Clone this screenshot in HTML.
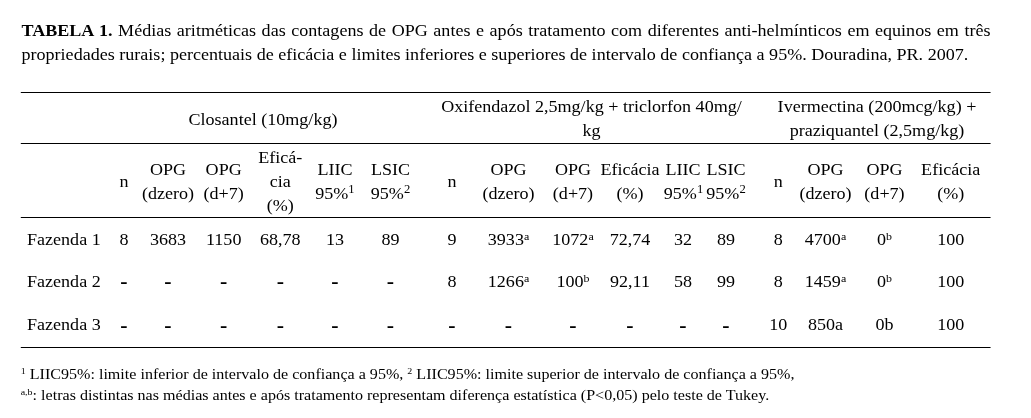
<!DOCTYPE html>
<html lang="pt"><head><meta charset="utf-8"><title>Tabela 1</title>
<style>
html,body{margin:0;padding:0;background:#fff}
body{width:1031px;height:418px;position:relative;overflow:hidden;font-family:"Liberation Serif","Times New Roman",serif;color:#000}
#w{position:absolute;left:0;top:0;width:941.94px;height:418px;transform:scaleX(1.0945454545454545);transform-origin:0 0}
.t{position:absolute;white-space:nowrap;line-height:20px;height:20px}
.c{width:400px;text-align:center}
.j{white-space:normal;text-align:justify;text-align-last:justify;width:885.30px}
sup{font-size:70%;line-height:0;vertical-align:baseline;position:relative;top:-0.54em}
sup.s{font-size:66%;top:-0.5em}
sup.f{font-size:62%;top:-0.6em}
.d{font-size:20px;font-weight:bold}
.r{position:absolute;height:1.5px;background:#000}
</style></head><body><div id="w">
<div class="t j" style="left:19.64px;top:21.00px;font-size:16.5px"><b>TABELA 1.</b> Médias aritméticas das contagens de OPG antes e após tratamento com diferentes anti-helmínticos em equinos em três</div>
<div class="t" style="left:19.64px;top:45.00px;font-size:16.5px">propriedades rurais; percentuais de eficácia e limites inferiores e superiores de intervalo de confiança a 95%. Douradina, PR. 2007.</div>
<div class="t c" style="left:40.28px;top:110.00px;font-size:16.5px">Closantel (10mg/kg)</div>
<div class="t c" style="left:340.41px;top:97.00px;font-size:16.5px">Oxifendazol 2,5mg/kg + triclorfon 40mg/</div>
<div class="t c" style="left:340.41px;top:121.00px;font-size:16.5px">kg</div>
<div class="t c" style="left:601.25px;top:97.00px;font-size:16.5px">Ivermectina (200mcg/kg) +</div>
<div class="t c" style="left:601.25px;top:121.00px;font-size:16.5px">praziquantel (2,5mg/kg)</div>
<div class="t c" style="left:-86.71px;top:172.00px;font-size:16.5px">n</div>
<div class="t c" style="left:-46.51px;top:160.00px;font-size:16.5px">OPG</div>
<div class="t c" style="left:-46.51px;top:184.00px;font-size:16.5px">(dzero)</div>
<div class="t c" style="left:4.38px;top:160.00px;font-size:16.5px">OPG</div>
<div class="t c" style="left:4.38px;top:184.00px;font-size:16.5px">(d+7)</div>
<div class="t c" style="left:56.09px;top:148.00px;font-size:16.5px">Eficá-</div>
<div class="t c" style="left:56.09px;top:172.00px;font-size:16.5px">cia</div>
<div class="t c" style="left:56.09px;top:196.00px;font-size:16.5px">(%)</div>
<div class="t c" style="left:106.06px;top:160.00px;font-size:16.5px">LIIC</div>
<div class="t c" style="left:106.06px;top:184.00px;font-size:16.5px">95%<sup>1</sup></div>
<div class="t c" style="left:156.77px;top:160.00px;font-size:16.5px">LSIC</div>
<div class="t c" style="left:156.77px;top:184.00px;font-size:16.5px">95%<sup>2</sup></div>
<div class="t c" style="left:212.96px;top:172.00px;font-size:16.5px">n</div>
<div class="t c" style="left:264.58px;top:160.00px;font-size:16.5px">OPG</div>
<div class="t c" style="left:264.58px;top:184.00px;font-size:16.5px">(dzero)</div>
<div class="t c" style="left:323.50px;top:160.00px;font-size:16.5px">OPG</div>
<div class="t c" style="left:323.50px;top:184.00px;font-size:16.5px">(d+7)</div>
<div class="t c" style="left:375.58px;top:160.00px;font-size:16.5px">Eficácia</div>
<div class="t c" style="left:375.58px;top:184.00px;font-size:16.5px">(%)</div>
<div class="t c" style="left:424.00px;top:160.00px;font-size:16.5px">LIIC</div>
<div class="t c" style="left:424.46px;top:184.00px;font-size:16.5px">95%<sup>1</sup></div>
<div class="t c" style="left:463.29px;top:160.00px;font-size:16.5px">LSIC</div>
<div class="t c" style="left:463.29px;top:184.00px;font-size:16.5px">95%<sup>2</sup></div>
<div class="t c" style="left:510.98px;top:172.00px;font-size:16.5px">n</div>
<div class="t c" style="left:554.19px;top:160.00px;font-size:16.5px">OPG</div>
<div class="t c" style="left:554.19px;top:184.00px;font-size:16.5px">(dzero)</div>
<div class="t c" style="left:608.10px;top:160.00px;font-size:16.5px">OPG</div>
<div class="t c" style="left:608.10px;top:184.00px;font-size:16.5px">(d+7)</div>
<div class="t c" style="left:668.58px;top:160.00px;font-size:16.5px">Eficácia</div>
<div class="t c" style="left:668.58px;top:184.00px;font-size:16.5px">(%)</div>
<div class="t" style="left:24.67px;top:230.00px;font-size:16.5px">Fazenda 1</div>
<div class="t c" style="left:-86.71px;top:230.00px;font-size:16.5px">8</div>
<div class="t c" style="left:-46.51px;top:230.00px;font-size:16.5px">3683</div>
<div class="t c" style="left:4.38px;top:230.00px;font-size:16.5px">1150</div>
<div class="t c" style="left:56.09px;top:230.00px;font-size:16.5px">68,78</div>
<div class="t c" style="left:106.06px;top:230.00px;font-size:16.5px">13</div>
<div class="t c" style="left:156.77px;top:230.00px;font-size:16.5px">89</div>
<div class="t c" style="left:212.96px;top:230.00px;font-size:16.5px">9</div>
<div class="t c" style="left:264.58px;top:230.00px;font-size:16.5px">3933<sup class="s">a</sup></div>
<div class="t c" style="left:323.50px;top:230.00px;font-size:16.5px">1072<sup class="s">a</sup></div>
<div class="t c" style="left:375.58px;top:230.00px;font-size:16.5px">72,74</div>
<div class="t c" style="left:424.00px;top:230.00px;font-size:16.5px">32</div>
<div class="t c" style="left:463.29px;top:230.00px;font-size:16.5px">89</div>
<div class="t c" style="left:510.98px;top:230.00px;font-size:16.5px">8</div>
<div class="t c" style="left:554.19px;top:230.00px;font-size:16.5px">4700<sup class="s">a</sup></div>
<div class="t c" style="left:608.10px;top:230.00px;font-size:16.5px">0<sup class="s">b</sup></div>
<div class="t c" style="left:668.58px;top:230.00px;font-size:16.5px">100</div>
<div class="t" style="left:24.67px;top:272.00px;font-size:16.5px">Fazenda 2</div>
<div class="t c d" style="left:-86.71px;top:271px">-</div>
<div class="t c d" style="left:-46.51px;top:271px">-</div>
<div class="t c d" style="left:4.38px;top:271px">-</div>
<div class="t c d" style="left:56.09px;top:271px">-</div>
<div class="t c d" style="left:106.06px;top:271px">-</div>
<div class="t c d" style="left:156.77px;top:271px">-</div>
<div class="t c" style="left:212.96px;top:272.00px;font-size:16.5px">8</div>
<div class="t c" style="left:264.58px;top:272.00px;font-size:16.5px">1266<sup class="s">a</sup></div>
<div class="t c" style="left:323.50px;top:272.00px;font-size:16.5px">100<sup class="s">b</sup></div>
<div class="t c" style="left:375.58px;top:272.00px;font-size:16.5px">92,11</div>
<div class="t c" style="left:424.00px;top:272.00px;font-size:16.5px">58</div>
<div class="t c" style="left:463.29px;top:272.00px;font-size:16.5px">99</div>
<div class="t c" style="left:510.98px;top:272.00px;font-size:16.5px">8</div>
<div class="t c" style="left:554.19px;top:272.00px;font-size:16.5px">1459<sup class="s">a</sup></div>
<div class="t c" style="left:608.10px;top:272.00px;font-size:16.5px">0<sup class="s">b</sup></div>
<div class="t c" style="left:668.58px;top:272.00px;font-size:16.5px">100</div>
<div class="t" style="left:24.67px;top:315.00px;font-size:16.5px">Fazenda 3</div>
<div class="t c d" style="left:-86.71px;top:315px">-</div>
<div class="t c d" style="left:-46.51px;top:315px">-</div>
<div class="t c d" style="left:4.38px;top:315px">-</div>
<div class="t c d" style="left:56.09px;top:315px">-</div>
<div class="t c d" style="left:106.06px;top:315px">-</div>
<div class="t c d" style="left:156.77px;top:315px">-</div>
<div class="t c d" style="left:212.96px;top:315px">-</div>
<div class="t c d" style="left:264.58px;top:315px">-</div>
<div class="t c d" style="left:323.50px;top:315px">-</div>
<div class="t c d" style="left:375.58px;top:315px">-</div>
<div class="t c d" style="left:424.00px;top:315px">-</div>
<div class="t c d" style="left:463.29px;top:315px">-</div>
<div class="t c" style="left:510.98px;top:315.00px;font-size:16.5px">10</div>
<div class="t c" style="left:554.19px;top:315.00px;font-size:16.5px">850a</div>
<div class="t c" style="left:608.10px;top:315.00px;font-size:16.5px">0b</div>
<div class="t c" style="left:668.58px;top:315.00px;font-size:16.5px">100</div>
<div class="t" style="left:18.91px;top:364.00px;font-size:14.7px"><sup class="f">1</sup> LIIC95%: limite inferior de intervalo de confiança a 95%, <sup class="f">2</sup> LIIC95%: limite superior de intervalo de confiança a 95%,</div>
<div class="t" style="left:18.91px;top:385.00px;font-size:14.7px"><sup class="f">a,b</sup>: letras distintas nas médias antes e após tratamento representam diferença estatística (P&lt;0,05) pelo teste de Tukey.</div>
<div class="r" style="left:19.19px;width:886.21px;top:91.75px"></div>
<div class="r" style="left:19.19px;width:886.21px;top:142.55px"></div>
<div class="r" style="left:19.19px;width:886.21px;top:216.75px"></div>
<div class="r" style="left:19.19px;width:886.21px;top:346.55px"></div>
</div></body></html>
